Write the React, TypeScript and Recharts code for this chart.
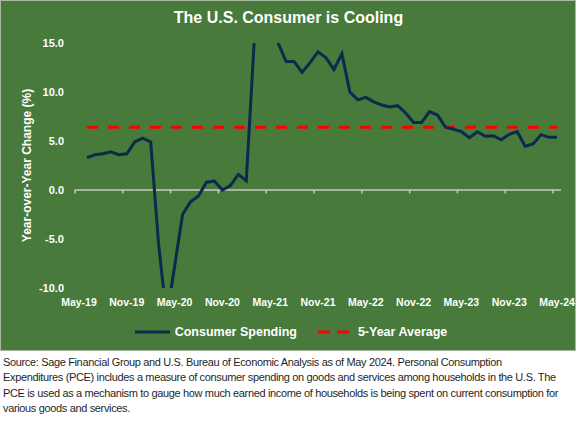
import { LineChart, Line, XAxis, YAxis, ReferenceLine, Legend } from 'recharts'

// month slots from May-19 (0) to May-24 (60); Excel draws the first value at Jun-19
const tickLabels = ['May-19', 'Nov-19', 'May-20', 'Nov-20', 'May-21', 'Nov-21', 'May-22', 'Nov-22', 'May-23', 'Nov-23', 'May-24']

const consumerSpending: (number | null)[] = [
  null, 3.3, 3.6, 3.7, 3.9, 3.6, 3.7, 4.9, 5.3, 4.9,
  -5.6, -13.0, -7.8, -2.5, -1.2, -0.6, 0.8, 0.9, 0.0, 0.45,
  1.6, 0.95, 15.3, 28.0, 22.0, 15.0, 13.1, 13.1, 12.0, 13.0,
  14.1, 13.5, 12.3, 13.9, 10.0, 9.2, 9.45, 9.0, 8.67, 8.47,
  8.6, 7.86, 6.9, 6.9, 8.0, 7.65, 6.4, 6.2, 5.95, 5.34,
  5.95, 5.48, 5.54, 5.13, 5.68, 5.95, 4.46, 4.7, 5.65, 5.37,
  5.37,
]

const FIVE_YEAR_AVG = 6.4

const yTicks = [-10, -5, 0, 5, 10, 15]

const sourceLines = [
  'Source: Sage Financial Group and U.S. Bureau of Economic Analysis as of May 2024. Personal Consumption',
  'Expenditures (PCE) includes a measure of consumer spending on goods and services among households in the U.S. The',
  'PCE is used as a mechanism to gauge how much earned income of households is being spent on current consumption for',
  'various goods and services.',
]

const data = consumerSpending.map((v, i) => ({
  x: i + 0.5,
  spending: v,
  avg: v === null ? null : FIVE_YEAR_AVG,
}))

const xLabelTicks = tickLabels.map((_, k) => k * 6 + 0.5)
const xBoundaryTicks = tickLabels.map((_, k) => k * 6)

const GREEN = '#477a3b'
const NAVY = '#0c2a4c'
const RED = '#ff0000'
const FONT = '"Liberation Sans", Arial, sans-serif'

function LegendContent() {
  const items = [
    { label: 'Consumer Spending', color: NAVY, dash: undefined as string | undefined },
    { label: '5-Year Average', color: RED, dash: '12 7' },
  ]
  return (
    <div style={{ display: 'flex', justifyContent: 'center', height: 16, alignItems: 'center', gap: 21, paddingLeft: 21 }}>
      {items.map((it) => (
        <div key={it.label} style={{ display: 'flex', alignItems: 'center' }}>
          <svg width={35} height={8} style={{ marginRight: 5 }}>
            <line x1={0} y1={4} x2={35} y2={4} stroke={it.color} strokeWidth={3} strokeDasharray={it.dash} />
          </svg>
          <span style={{ color: '#fff', fontWeight: 700, fontSize: 12.5, fontFamily: FONT }}>{it.label}</span>
        </div>
      ))}
    </div>
  )
}

export default function App() {
  return (
    <div style={{ position: 'absolute', left: 0, top: 0, width: 577, height: 421, background: '#fff' }}>
      <div
        style={{
          position: 'relative',
          width: 576,
          height: 351,
          background: GREEN,
          boxShadow: 'inset 0 0 0 1px #a9b8a4',
        }}
      >
        <div
          style={{
            position: 'absolute',
            top: 8,
            left: 0,
            width: 577,
            textAlign: 'center',
            color: '#fff',
            fontFamily: FONT,
            fontWeight: 700,
            fontSize: 16,
            lineHeight: '20px',
          }}
        >
          The U.S. Consumer is Cooling
        </div>
        <LineChart width={577} height={351} data={data} margin={{ top: 43, right: 16, left: 0, bottom: 11 }}>
          <XAxis
            dataKey="x"
            type="number"
            domain={[0, 61]}
            ticks={xLabelTicks}
            interval={0}
            tickFormatter={(v: number) => tickLabels[Math.floor(v / 6)] ?? ''}
            axisLine={false}
            tickLine={false}
            tickMargin={5}
            height={36}
            tick={{ fill: '#fff', fontSize: 10.5, fontWeight: 700, fontFamily: FONT }}
          />
          <YAxis
            domain={[-10, 15]}
            ticks={yTicks}
            allowDataOverflow
            tickFormatter={(v: number) => v.toFixed(1)}
            axisLine={false}
            tickLine={false}
            tickMargin={5}
            width={75}
            tick={{ fill: '#fff', fontSize: 11, fontWeight: 700, fontFamily: FONT }}
            label={{
              value: 'Year-over-Year Change (%)',
              angle: -90,
              position: 'center',
              dx: -11,
              fill: '#fff',
              fontSize: 12,
              fontWeight: 700,
              fontFamily: FONT,
            }}
          />
          <ReferenceLine y={0} stroke="#c9c9c9" strokeWidth={1.5} />
          {xBoundaryTicks.map((t) => (
            <ReferenceLine
              key={t}
              segment={[
                { x: t, y: 0 },
                { x: t, y: -0.35 },
              ]}
              stroke="#c9c9c9"
              strokeWidth={1.5}
            />
          ))}
          <Line
            type="linear"
            dataKey="avg"
            name="5-Year Average"
            stroke={RED}
            strokeWidth={3}
            strokeDasharray="11 10"
            dot={false}
            isAnimationActive={false}
          />
          <Line
            type="linear"
            dataKey="spending"
            name="Consumer Spending"
            stroke={NAVY}
            strokeWidth={3}
            dot={false}
            isAnimationActive={false}
          />
          <Legend verticalAlign="bottom" content={<LegendContent />} />
        </LineChart>
      </div>
      <div
        style={{
          position: 'absolute',
          top: 355,
          left: 3,
          fontFamily: FONT,
          fontSize: 11,
          letterSpacing: '-0.35px',
          lineHeight: '15.3px',
          color: '#1f1f1f',
          whiteSpace: 'nowrap',
        }}
      >
        {sourceLines.map((l) => (
          <div key={l}>{l}</div>
        ))}
      </div>
    </div>
  )
}
